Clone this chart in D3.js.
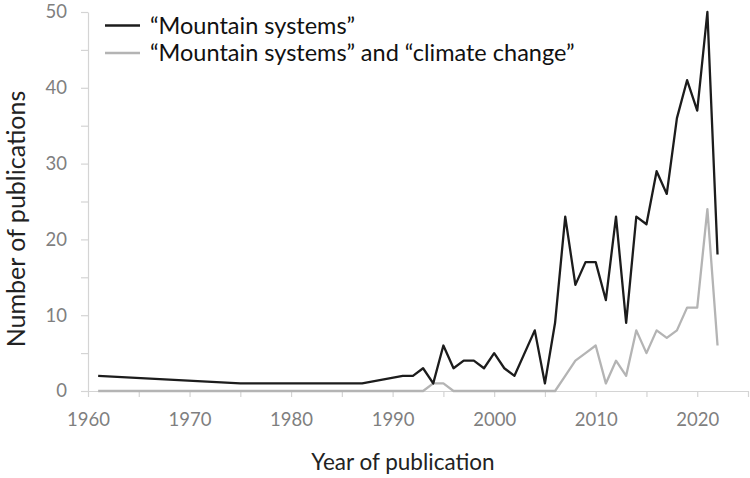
<!DOCTYPE html>
<html>
<head>
  <meta charset="UTF-8">
  <style>
    body {
      margin: 0;
      background-color: white;
      font-family: Lato, "Noto Sans", sans-serif;
    }
    svg {
      display: block;
    }
  </style>
</head>
<body>

<svg></svg>

<script src="https://d3js.org/d3.v7.min.js"></script>

<script>
let width = 750, height = 478;

// publication counts per year
let years = [1961, 1975, 1987, 1991, 1992, 1993, 1994, 1995, 1996, 1997, 1998, 1999, 2000, 2001, 2002,
             2004, 2005, 2006, 2007, 2008, 2009, 2010, 2011, 2012, 2013, 2014, 2015, 2016, 2017, 2018,
             2019, 2020, 2021, 2022];
let mountain = [2, 1, 1, 2, 2, 3, 1, 6, 3, 4, 4, 3, 5, 3, 2,
                8, 1, 9, 23, 14, 17, 17, 12, 23, 9, 23, 22, 29, 26, 36,
                41, 37, 50, 18];
let climate = [0, 0, 0, 0, 0, 0, 1, 1, 0, 0, 0, 0, 0, 0, 0,
               0, 0, 0, 2, 4, 5, 6, 1, 4, 2, 8, 5, 8, 7, 8,
               11, 11, 24, 6];

let seriesNames = ["\u201CMountain systems\u201D", "\u201CMountain systems\u201D and \u201Cclimate change\u201D"];
let seriesColors = ["#1c1c1c", "#b4b4b4"];

let xTicks = d3.range(1960, 2026, 5);
let yTicks = d3.range(0, 51, 5);

let svg = d3.select("svg")
    .attr("width", width)
    .attr("height", height);

let x = d3.scaleLinear().domain([1960, 2025]).range([88, 748]);
let y = d3.scaleLinear().domain([0, 50]).range([391, 12]);

let xAxis = d3.axisBottom(x)
    .tickValues(xTicks)
    .tickSize(6)
    .tickSizeOuter(0)
    .tickPadding(16)
    .tickFormat(d => d % 10 === 0 && d < 2025 ? d : "");

let yAxis = d3.axisLeft(y)
    .tickValues(yTicks)
    .tickSize(7)
    .tickSizeOuter(0)
    .tickPadding(14)
    .tickFormat(d => d % 10 === 0 ? d : "");

let gx = svg.append("g")
    .attr("transform", "translate(0," + y(0) + ")")
    .call(xAxis);

let gy = svg.append("g")
    .attr("transform", "translate(" + x(1960) + ",0)")
    .call(yAxis);

[gx, gy].forEach(g => {
  g.select(".domain").attr("stroke", "#d4d4d4").attr("stroke-width", 1.2);
  g.selectAll(".tick line").attr("stroke", "#d4d4d4").attr("stroke-width", 1.2);
  g.selectAll(".tick text")
      .attr("fill", "#7f7f7f")
      .style("font-family", "Lato, sans-serif")
      .style("font-size", "18.5px");
});

// series lines
let rows = years.map((yr, i) => ({year: yr, a: mountain[i], b: climate[i]}));

let lineA = d3.line().x(d => x(d.year)).y(d => y(d.a));
let lineB = d3.line().x(d => x(d.year)).y(d => y(d.b));

svg.append("path")
    .datum(rows)
    .attr("d", lineB)
    .attr("fill", "none")
    .attr("stroke", seriesColors[1])
    .attr("stroke-width", 2.3)
    .attr("stroke-linejoin", "round");

svg.append("path")
    .datum(rows)
    .attr("d", lineA)
    .attr("fill", "none")
    .attr("stroke", seriesColors[0])
    .attr("stroke-width", 2.3)
    .attr("stroke-linejoin", "round");

// axis titles
svg.append("text")
    .attr("x", 403)
    .attr("y", 462)
    .attr("dy", "0.35em")
    .attr("text-anchor", "middle")
    .attr("fill", "#222")
    .style("font-size", "22.5px")
    .text("Year of publication");

svg.append("text")
    .attr("transform", "translate(16,219) rotate(-90)")
    .attr("dy", "0.35em")
    .attr("text-anchor", "middle")
    .attr("fill", "#222")
    .style("font-size", "25px")
    .text("Number of publications");

// legend
let legend = svg.append("g")
    .selectAll("g")
    .data(seriesNames)
    .enter()
    .append("g")
    .attr("transform", (d, i) => "translate(105," + (25.5 + i * 27.5) + ")");

legend.append("line")
    .attr("x1", 0)
    .attr("x2", 35)
    .attr("stroke", (d, i) => seriesColors[i])
    .attr("stroke-width", 2.5);

legend.append("text")
    .attr("x", 45)
    .attr("dy", "0.35em")
    .attr("fill", "#111")
    .style("font-size", "23.5px")
    .text(d => d);
</script>

</body>
</html>
